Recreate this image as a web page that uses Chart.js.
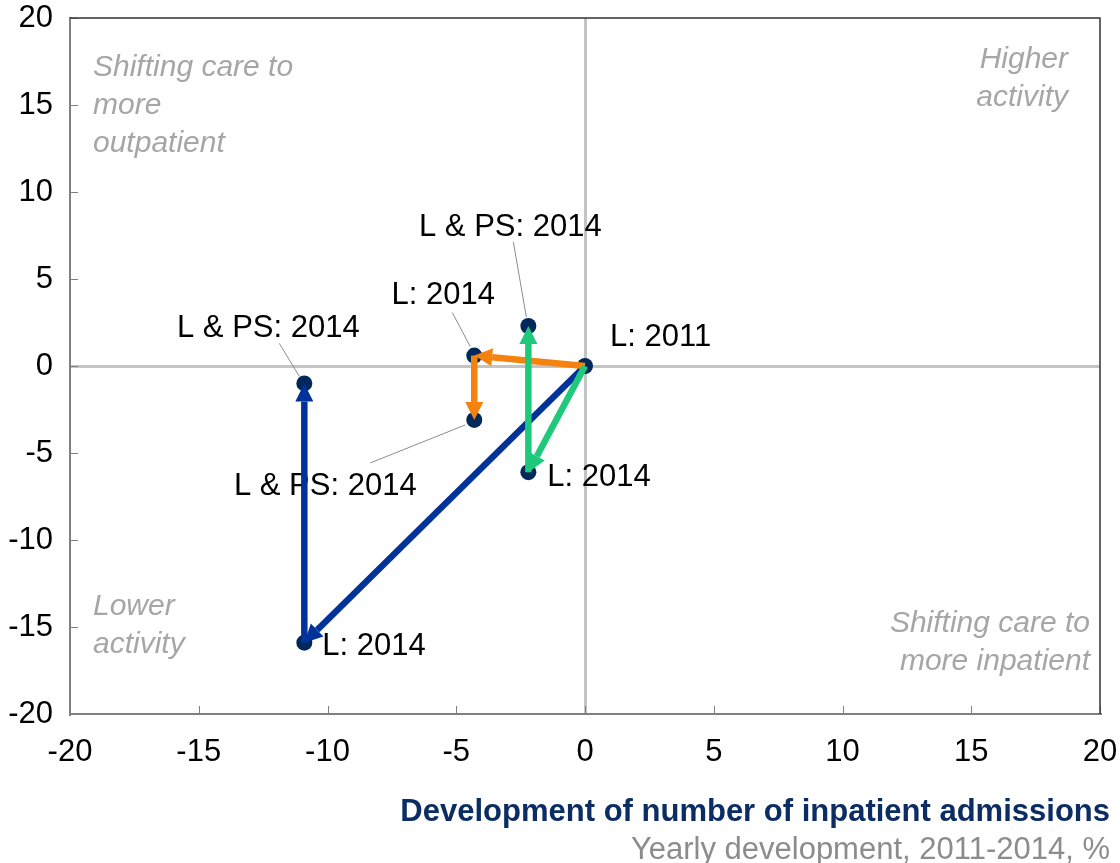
<!DOCTYPE html>
<html lang="en">
<head>
    <meta charset="UTF-8">
    <title>Development of number of inpatient admissions</title>
    <script src="https://cdn.jsdelivr.net/npm/chart.js"></script>
    <style>
        html, body {
            margin: 0;
            padding: 0;
            background: #ffffff;
        }

        .chart-box {
            position: relative;
            width: 1120px;
            height: 863px;
        }
    </style>
</head>
<body>
    <div class="chart-box">
        <canvas id="arrowChart"></canvas>
    </div>

    <script>
        // data (yearly development, %)
        const seriesNames = ['Blue group', 'Orange group', 'Green group'];
        const startX = [0, 0, 0];          // L: 2011
        const startY = [0, 0, 0];
        const lX2014 = [-10.9, -4.3, -2.2]; // L: 2014
        const lY2014 = [-15.9, 0.6, -6.1];
        const lpsX2014 = [-10.9, -4.3, -2.2]; // L & PS: 2014
        const lpsY2014 = [-1.0, -3.1, 2.3];
        const axisTicks = [-20, -15, -10, -5, 0, 5, 10, 15, 20];

        const colours = ['#003399', '#F5820F', '#1EC97B'];
        const dotColour = '#00285A';
        const font = '"Liberation Sans", Arial, sans-serif';

        // one dataset per group: 2011 -> L 2014 -> L & PS 2014, drawn as arrows
        const arrowSets = seriesNames.map((name, i) => ({
            label: name,
            data: [
                { x: startX[i], y: startY[i] },
                { x: lX2014[i], y: lY2014[i] },
                { x: lpsX2014[i], y: lpsY2014[i] }
            ],
            showLine: false,
            pointRadius: 0,
            arrowColour: colours[i]
        }));

        const dotSet = {
            label: 'points',
            data: [{ x: startX[0], y: startY[0] }]
                .concat(seriesNames.map((n, i) => ({ x: lX2014[i], y: lY2014[i] })))
                .concat(seriesNames.map((n, i) => ({ x: lpsX2014[i], y: lpsY2014[i] }))),
            pointRadius: 8,
            pointBackgroundColor: dotColour,
            pointBorderWidth: 0,
            showLine: false
        };

        // label text and its offset from the point (dataset, point index)
        const pointLabels = [
            { ds: 0, pt: 0, text: 'L: 2011', dx: 25, dy: -29, align: 'left' },
            { ds: 2, pt: 1, text: 'L: 2014', dx: 19, dy: 5, align: 'left' },
            { ds: 0, pt: 1, text: 'L: 2014', dx: 18, dy: 4, align: 'left' },
            { ds: 0, pt: 2, text: 'L & PS: 2014', dx: -36, dy: -55, align: 'center', leader: [-25, -40, -5, -7] },
            { ds: 1, pt: 1, text: 'L: 2014', dx: -31, dy: -60, align: 'center', leader: [-22, -43, -4, -9] },
            { ds: 2, pt: 2, text: 'L & PS: 2014', dx: -18, dy: -99, align: 'center', leader: [-15, -84, -2, -9] },
            { ds: 1, pt: 2, text: 'L & PS: 2014', dx: -149, dy: 67, align: 'center', leader: [-104, 43, -9, 5] }
        ];

        const quadrantPlugin = {
            id: 'quadrants',
            beforeDatasetsDraw(chart) {
                const { ctx, chartArea: a } = chart;
                const xs = chart.scales.x, ys = chart.scales.y;
                ctx.save();

                // inward tick marks
                ctx.strokeStyle = '#808080';
                ctx.lineWidth = 1;
                axisTicks.forEach(v => {
                    const px = Math.round(xs.getPixelForValue(v)) + 0.5;
                    const py = Math.round(ys.getPixelForValue(v)) + 0.5;
                    ctx.beginPath();
                    ctx.moveTo(px, a.bottom);
                    ctx.lineTo(px, a.bottom - 8);
                    ctx.moveTo(a.left, py);
                    ctx.lineTo(a.left + 8, py);
                    ctx.stroke();
                });

                // top and right frame
                ctx.strokeStyle = '#333333';
                ctx.lineWidth = 1.5;
                ctx.beginPath();
                ctx.moveTo(a.left, a.top);
                ctx.lineTo(a.right, a.top);
                ctx.lineTo(a.right, a.bottom);
                ctx.stroke();

                // quadrant captions
                ctx.font = 'italic 30px ' + font;
                ctx.fillStyle = '#A6A6A6';
                ctx.textBaseline = 'middle';
                ctx.textAlign = 'left';
                ['Shifting care to', 'more', 'outpatient'].forEach((t, k) =>
                    ctx.fillText(t, a.left + 23, a.top + 50 + k * 38));
                ['Lower', 'activity'].forEach((t, k) =>
                    ctx.fillText(t, a.left + 23, a.top + 589 + k * 38));
                ctx.textAlign = 'right';
                ['Higher', 'activity'].forEach((t, k) =>
                    ctx.fillText(t, a.right - 32, a.top + 42 + k * 38));
                ['Shifting care to', 'more inpatient'].forEach((t, k) =>
                    ctx.fillText(t, a.right - 10, a.top + 606 + k * 38));

                // point labels and leader lines
                ctx.font = '31px ' + font;
                ctx.fillStyle = '#000000';
                pointLabels.forEach(l => {
                    const p = chart.getDatasetMeta(l.ds).data[l.pt];
                    if (l.leader) {
                        ctx.strokeStyle = '#8C8C8C';
                        ctx.lineWidth = 1;
                        ctx.beginPath();
                        ctx.moveTo(p.x + l.leader[0], p.y + l.leader[1]);
                        ctx.lineTo(p.x + l.leader[2], p.y + l.leader[3]);
                        ctx.stroke();
                    }
                    ctx.textAlign = l.align;
                    ctx.fillText(l.text, p.x + l.dx, p.y + l.dy);
                });
                ctx.restore();
            },
            afterDatasetsDraw(chart) {
                const { ctx } = chart;
                ctx.save();
                chart.data.datasets.forEach((ds, i) => {
                    if (!ds.arrowColour) return;
                    const pts = chart.getDatasetMeta(i).data;
                    ctx.strokeStyle = ds.arrowColour;
                    ctx.fillStyle = ds.arrowColour;
                    ctx.lineWidth = 6.5;
                    for (let k = 1; k < pts.length; k++) {
                        const x0 = pts[k - 1].x, y0 = pts[k - 1].y;
                        const x1 = pts[k].x, y1 = pts[k].y;
                        const ang = Math.atan2(y1 - y0, x1 - x0);
                        const len = 18, half = 9;
                        const bx = x1 - len * Math.cos(ang), by = y1 - len * Math.sin(ang);
                        ctx.beginPath();
                        ctx.moveTo(x0, y0);
                        ctx.lineTo(bx, by);
                        ctx.stroke();
                        ctx.beginPath();
                        ctx.moveTo(x1, y1);
                        ctx.lineTo(bx + half * Math.sin(ang), by - half * Math.cos(ang));
                        ctx.lineTo(bx - half * Math.sin(ang), by + half * Math.cos(ang));
                        ctx.closePath();
                        ctx.fill();
                    }
                });

                // axis caption under the chart
                ctx.textAlign = 'right';
                ctx.textBaseline = 'middle';
                ctx.font = 'bold 31px ' + font;
                ctx.fillStyle = '#0B2D64';
                ctx.fillText('Development of number of inpatient admissions', 1110, 812);
                ctx.font = '31px ' + font;
                ctx.fillStyle = '#8C8C8C';
                ctx.fillText('Yearly development, 2011-2014, %', 1110, 850);
                ctx.restore();
            }
        };

        const zeroLine = c => (c.tick && c.tick.value === 0) ? '#C4C4C4' : 'rgba(0,0,0,0)';

        new Chart(document.getElementById('arrowChart'), {
            type: 'scatter',
            data: { datasets: arrowSets.concat([dotSet]) },
            options: {
                responsive: true,
                maintainAspectRatio: false,
                animation: false,
                layout: { padding: { top: 18, right: 20, left: 0, bottom: 0 } },
                plugins: {
                    legend: { display: false },
                    tooltip: { enabled: false }
                },
                scales: {
                    x: {
                        min: -20,
                        max: 20,
                        afterBuildTicks: s => { s.ticks = axisTicks.map(v => ({ value: v })); },
                        afterFit: s => { s.height = 149; s.paddingLeft = 0; s.paddingRight = 0; },
                        grid: { color: zeroLine, lineWidth: 3, drawTicks: false },
                        border: { color: '#808080', width: 2 },
                        ticks: { color: '#000000', padding: 20, font: { family: font, size: 31 } }
                    },
                    y: {
                        min: -20,
                        max: 20,
                        afterBuildTicks: s => { s.ticks = axisTicks.map(v => ({ value: v })); },
                        afterFit: s => { s.width = 70; s.paddingTop = 0; s.paddingBottom = 0; },
                        grid: { color: zeroLine, lineWidth: 3, drawTicks: false },
                        border: { color: '#808080', width: 2 },
                        ticks: { color: '#000000', padding: 17, font: { family: font, size: 31 } }
                    }
                }
            },
            plugins: [quadrantPlugin]
        });
    </script>
</body>
</html>
